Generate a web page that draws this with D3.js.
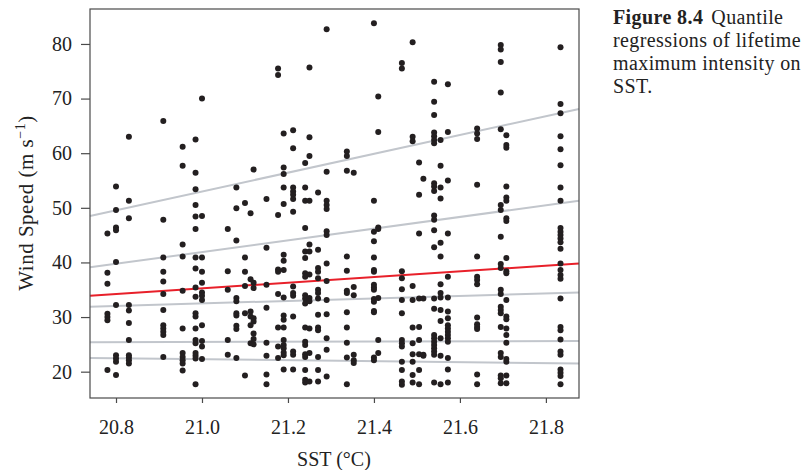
<!DOCTYPE html>
<html>
<head>
<meta charset="utf-8">
<script src="https://d3js.org/d3.v7.min.js"></script>
<style>
body { margin: 0; background: #fff; }
svg { display: block; }
text { font-family: 'Liberation Serif', 'Times New Roman', serif; fill: #222; }
</style>
</head>
<body>
<div id="chart"></div>
<script>

// SST levels (°C) and the wind speeds (m/s) observed at each level
var sstLevels = [20.78, 20.80, 20.83, 20.91, 20.955, 20.985, 21.00, 21.06, 21.08, 21.10,
  21.113, 21.12, 21.15, 21.177, 21.19, 21.212, 21.24, 21.25, 21.27, 21.29,
  21.337, 21.353, 21.40, 21.41, 21.465, 21.49, 21.505, 21.515, 21.54, 21.555,
  21.572, 21.64, 21.695, 21.708, 21.834];

var windSpeeds = [
  [45.3, 38.1, 36.1, 30.6, 30.0, 29.4, 20.3],
  [53.9, 49.6, 46.4, 45.9, 40.1, 32.2, 23.0, 22.4, 21.8, 19.4],
  [63.0, 51.3, 48.1, 32.2, 31.2, 28.9, 25.8, 23.0, 22.6, 22.1, 21.5],
  [65.9, 47.8, 40.9, 38.3, 36.5, 34.2, 31.3, 28.5, 27.9, 27.3, 26.7, 22.7],
  [61.2, 57.7, 43.3, 41.1, 34.8, 27.9, 23.4, 22.7, 22.1, 21.5, 20.2],
  [62.5, 56.4, 53.4, 50.5, 48.4, 46.1, 40.9, 38.9, 35.4, 33.7, 30.7, 30.1, 27.9, 25.8, 25.2, 23.4, 22.9, 22.4, 17.7],
  [70.0, 48.5, 40.9, 38.3, 36.3, 34.5, 33.9, 33.1, 28.5, 25.6, 24.6, 22.3],
  [46.1, 38.4, 35.0, 25.8, 23.1],
  [53.7, 49.9, 44.0, 33.5, 32.9, 30.7, 30.3, 28.4, 27.8, 22.5],
  [50.9, 40.9, 38.3, 35.7, 30.7, 19.3],
  [49.0, 36.9, 31.0, 30.1, 28.5, 25.2],
  [57.0, 36.3, 35.3, 29.8, 29.2, 27.0, 26.0, 25.0],
  [51.6, 42.7, 35.9, 31.7, 25.3, 22.9, 19.5, 17.7],
  [75.5, 74.3, 48.7, 38.7, 38.3, 34.2, 28.1, 24.6, 22.5],
  [63.6, 57.4, 56.2, 53.7, 50.7, 41.4, 40.3, 38.6, 33.6, 30.3, 29.5, 28.1, 25.8, 24.9, 24.3, 23.5, 23.0, 20.4],
  [64.2, 60.9, 53.7, 53.0, 52.4, 51.6, 49.3, 35.6, 34.4, 33.9, 30.1, 23.7, 23.1, 20.4],
  [58.2, 53.7, 51.3, 46.3, 42.0, 40.8, 38.0, 37.4, 34.0, 33.4, 32.5, 28.1, 25.5, 24.9, 23.2, 22.7, 20.3, 18.5, 18.0],
  [75.7, 62.9, 59.5, 51.3, 43.3, 42.0, 37.8, 33.5, 32.9, 27.9, 23.4, 18.2],
  [52.8, 42.3, 39.0, 38.3, 37.1, 35.0, 34.4, 33.4, 30.4, 28.1, 27.6, 22.7, 20.3, 18.2],
  [82.7, 56.6, 51.3, 50.5, 49.8, 45.7, 45.0, 39.8, 36.6, 33.1, 30.5, 26.1, 24.0, 19.1],
  [60.3, 59.5, 56.8, 41.1, 38.5, 34.8, 34.4, 30.9, 28.1, 25.3, 22.6, 17.7],
  [56.4, 35.5, 34.0, 23.1, 22.1, 21.6],
  [83.8, 51.3, 45.6, 43.9, 40.9, 38.6, 38.3, 35.9, 35.4, 35.0, 33.3, 32.8, 31.1, 30.9, 22.6, 22.1],
  [70.4, 63.9, 46.4, 46.1, 33.5, 25.8, 23.4],
  [76.5, 75.5, 38.4, 37.1, 35.1, 33.1, 30.7, 25.8, 25.2, 24.6, 21.8, 20.3, 18.2, 17.6],
  [80.3, 63.0, 62.2, 35.7, 33.1, 28.1, 25.2, 23.2, 21.8, 19.4, 18.0],
  [58.3, 52.4, 45.3, 33.4, 28.2, 25.8, 23.2, 20.3, 17.7],
  [55.3, 33.4, 23.1, 22.9],
  [73.1, 69.4, 67.0, 63.8, 63.1, 62.4, 61.8, 54.5, 53.9, 53.1, 48.6, 47.8, 45.9, 42.8, 33.4, 31.5, 26.7, 26.1, 25.5, 24.9, 24.3, 23.7, 23.1, 18.0],
  [62.4, 57.7, 53.7, 51.7, 43.6, 41.1, 36.0, 34.4, 33.6, 31.3, 29.3, 26.1, 22.9, 17.7],
  [72.6, 63.9, 55.0, 45.3, 37.4, 33.6, 31.0, 29.8, 28.5, 27.9, 27.3, 26.7, 26.1, 25.5, 22.5, 20.4, 18.0],
  [64.5, 63.6, 62.6, 54.2, 41.1, 37.4, 36.8, 36.0, 29.9, 28.7, 28.2, 27.8, 19.5, 17.7],
  [79.8, 79.0, 76.7, 71.1, 64.4, 50.5, 49.6, 44.7, 39.7, 39.0, 35.0, 34.2, 31.9, 31.3, 30.7, 28.2, 23.4, 22.7, 19.3, 18.8, 17.9],
  [63.3, 61.5, 61.0, 53.9, 51.9, 51.3, 48.1, 47.6, 40.8, 38.4, 38.0, 33.1, 30.1, 29.6, 27.9, 26.7, 25.3, 22.3, 21.8, 19.3, 17.9],
  [79.4, 69.0, 67.3, 63.1, 60.7, 57.8, 53.7, 51.3, 46.3, 45.6, 45.0, 44.4, 43.7, 42.5, 39.8, 38.6, 37.7, 37.0, 33.4, 28.2, 27.6, 25.9, 23.7, 23.1, 20.4, 19.8, 19.2, 17.7]
];

// fitted regression lines: value at left and right end of the SST range
var fitNames = ["q0.9", "q0.75", "mean", "q0.5", "q0.25", "q0.1"];
var fitLeft  = [48.5, 39.1, 33.9, 31.9, 25.4, 22.5];
var fitRight = [68.1, 51.3, 39.8, 34.5, 25.6, 21.5];

var xTicks = [20.8, 21.0, 21.2, 21.4, 21.6, 21.8];
var yTicks = [20, 30, 40, 50, 60, 70, 80];
var xRange = [20.7395, 21.877];
var yRange = [15.18, 86.4];

var captionLines = ["regressions of lifetime", "maximum intensity on", "SST."];

var svg = d3.select("#chart").append("svg").attr("width", 805).attr("height", 470);

// plot box
var pLeft = 90, pTop = 9, pRight = 579, pBottom = 398;
var x = d3.scaleLinear().domain(xRange).range([pLeft, pRight]);
var y = d3.scaleLinear().domain(yRange).range([pBottom, pTop]);

// flatten the columns into points
var points = [];
sstLevels.forEach(function(s, i) {
  windSpeeds[i].forEach(function(w) { points.push({sst: s, wind: w}); });
});

// regression lines
var fits = fitNames.map(function(n, i) {
  return {name: n, a: fitLeft[i], b: fitRight[i]};
});
svg.selectAll(".fit")
  .data(fits)
  .enter().append("line")
  .attr("class", "fit")
  .attr("x1", x(xRange[0])).attr("x2", x(xRange[1]))
  .attr("y1", function(d) { return y(d.a); })
  .attr("y2", function(d) { return y(d.b); })
  .style("stroke", function(d) { return d.name == "mean" ? "#e8202a" : "#c2c6cc"; })
  .style("stroke-width", 2);

svg.selectAll(".pt")
  .data(points)
  .enter().append("circle")
  .attr("class", "pt")
  .attr("cx", function(d) { return x(d.sst); })
  .attr("cy", function(d) { return y(d.wind); })
  .attr("r", 3)
  .style("fill", "#231f20");

// frame
svg.append("rect")
  .attr("x", pLeft).attr("y", pTop)
  .attr("width", pRight - pLeft).attr("height", pBottom - pTop)
  .style("fill", "none").style("stroke", "#4a4a4a").style("stroke-width", 1.2);

var yAxis = svg.append("g")
  .attr("transform", "translate(" + pLeft + ",0)")
  .call(d3.axisLeft(y).tickValues(yTicks).tickSize(9).tickPadding(9).tickFormat(d3.format("d")));
var xAxis = svg.append("g")
  .attr("transform", "translate(0," + pBottom + ")")
  .call(d3.axisBottom(x).tickValues(xTicks).tickSize(5).tickPadding(17).tickFormat(d3.format(".1f")));

[xAxis, yAxis].forEach(function(g) {
  g.select(".domain").remove();
  g.selectAll("line").style("stroke", "#4a4a4a").style("stroke-width", 1.2);
  g.selectAll("text").style("font-family", "'Liberation Serif', serif").style("font-size", "20px").style("fill", "#222");
});

svg.append("text")
  .attr("x", 334).attr("y", 466)
  .attr("text-anchor", "middle")
  .style("font-size", "20px")
  .text("SST (°C)");

var yt = svg.append("text")
  .attr("transform", "translate(33,203) rotate(-90)")
  .attr("text-anchor", "middle")
  .style("font-size", "21px")
  .style("letter-spacing", "0.5px");
yt.append("tspan").text("Wind Speed (m s");
yt.append("tspan").attr("dy", -8).style("font-size", "14px").text("−1");
yt.append("tspan").attr("dy", 8).text(")");

// caption
var cap = svg.append("text").attr("x", 613).attr("y", 24)
  .style("font-size", "20px").style("letter-spacing", "0.4px");
cap.append("tspan").style("font-weight", "bold").text("Figure 8.4");
cap.append("tspan").attr("dx", 8).text("Quantile");
captionLines.forEach(function(t, i) {
  svg.append("text")
    .attr("x", 613).attr("y", 47 + i * 23)
    .style("font-size", "20px").style("letter-spacing", "0.4px")
    .text(t);
});

</script>
</body>
</html>
